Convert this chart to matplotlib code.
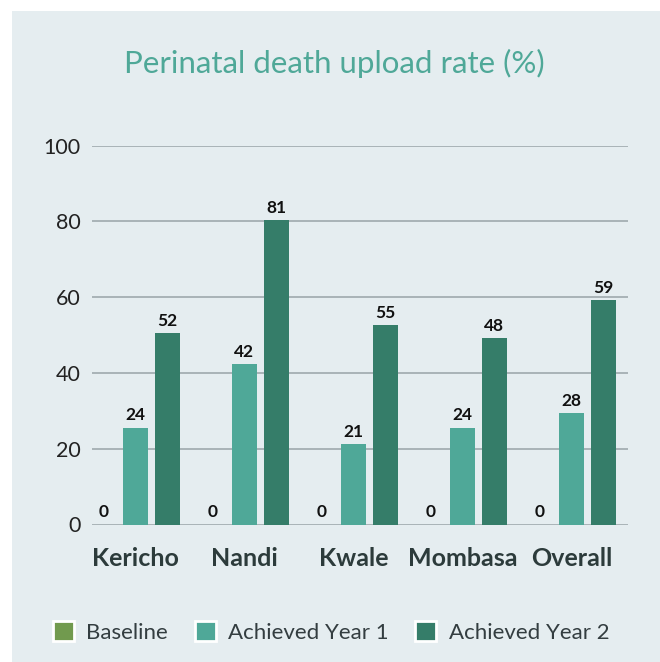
import matplotlib.pyplot as plt
from matplotlib.patches import Patch, Rectangle

categories = ["Kericho", "Nandi", "Kwale", "Mombasa", "Overall"]
baseline = [0, 0, 0, 0, 0]
year1 = [25.6, 42.4, 21.3, 25.6, 29.5]
year2 = [50.6, 80.4, 52.7, 49.3, 59.3]
baseline_labels = ["0", "0", "0", "0", "0"]
year1_labels = ["24", "42", "21", "24", "28"]
year2_labels = ["52", "81", "55", "48", "59"]
yticks = [0, 20, 40, 60, 80, 100]

bg = "#e5edf0"
c_base = "#719a4e"
c_y1 = "#4fa898"
c_y2 = "#357d69"

plt.rcParams["font.family"] = ["Lato", "DejaVu Sans"]

W, H = 660, 662
fig = plt.figure(figsize=(W / 100, H / 100), dpi=100, facecolor="white")
fig.patches.append(Rectangle((12 / W, 0), 1, 1 - 11 / H, transform=fig.transFigure,
                             facecolor=bg, edgecolor="none", zorder=-10))

left, right, y0, y100 = 92, 628, 524.5, 145.7
ax = fig.add_axes([left / W, (H - y0) / H, (right - left) / W, (y0 - y100) / H])
ax.set_facecolor("none")

x = list(range(len(categories)))
bw = 0.23
off = 0.294

def bars(vals, labels, shift, color):
    xs = [i + shift for i in x]
    ax.bar(xs, vals, width=bw, color=color, zorder=3)
    for xi, v, lab in zip(xs, vals, labels):
        ax.annotate(lab, (xi, v), xytext=(0, 3), textcoords="offset points",
                    ha="center", va="bottom", fontsize=12.5, fontweight="bold",
                    color="#111111", annotation_clip=False)

bars(baseline, baseline_labels, -off, c_base)
bars(year1, year1_labels, 0, c_y1)
bars(year2, year2_labels, off, c_y2)

ax.set_xlim(-0.397, 4.52)
ax.set_ylim(0, 100)
ax.set_yticks(yticks)
ax.set_yticklabels([str(t) for t in yticks], fontsize=15.5, color="#222222")
ax.set_xticks(x)
ax.set_xticklabels(categories, fontsize=18, fontweight="bold", color="#2c3b3b")
ax.tick_params(axis="y", length=0, pad=8)
ax.tick_params(axis="x", length=0, pad=16)
ax.yaxis.grid(True, color="#a9b3b7", linewidth=1.4, zorder=0)
ax.set_axisbelow(True)
for s in ax.spines.values():
    s.set_visible(False)

fig.text(334 / W, 1 - 63 / H, "Perinatal death upload rate (%)", ha="center", va="center",
         fontsize=22.5, color=c_y1)

handles = [Patch(facecolor=c, edgecolor="white", linewidth=2) for c in (c_base, c_y1, c_y2)]
fig.legend(handles, ["Baseline", "Achieved Year 1", "Achieved Year 2"],
           loc="center", bbox_to_anchor=(331 / W, 1 - 632 / H), ncol=3, frameon=False,
           fontsize=16, labelcolor="#333d40", handlelength=0.95, handleheight=0.95,
           handletextpad=0.55, columnspacing=1.2)

fig.savefig("out.png", dpi=100, facecolor="white")
